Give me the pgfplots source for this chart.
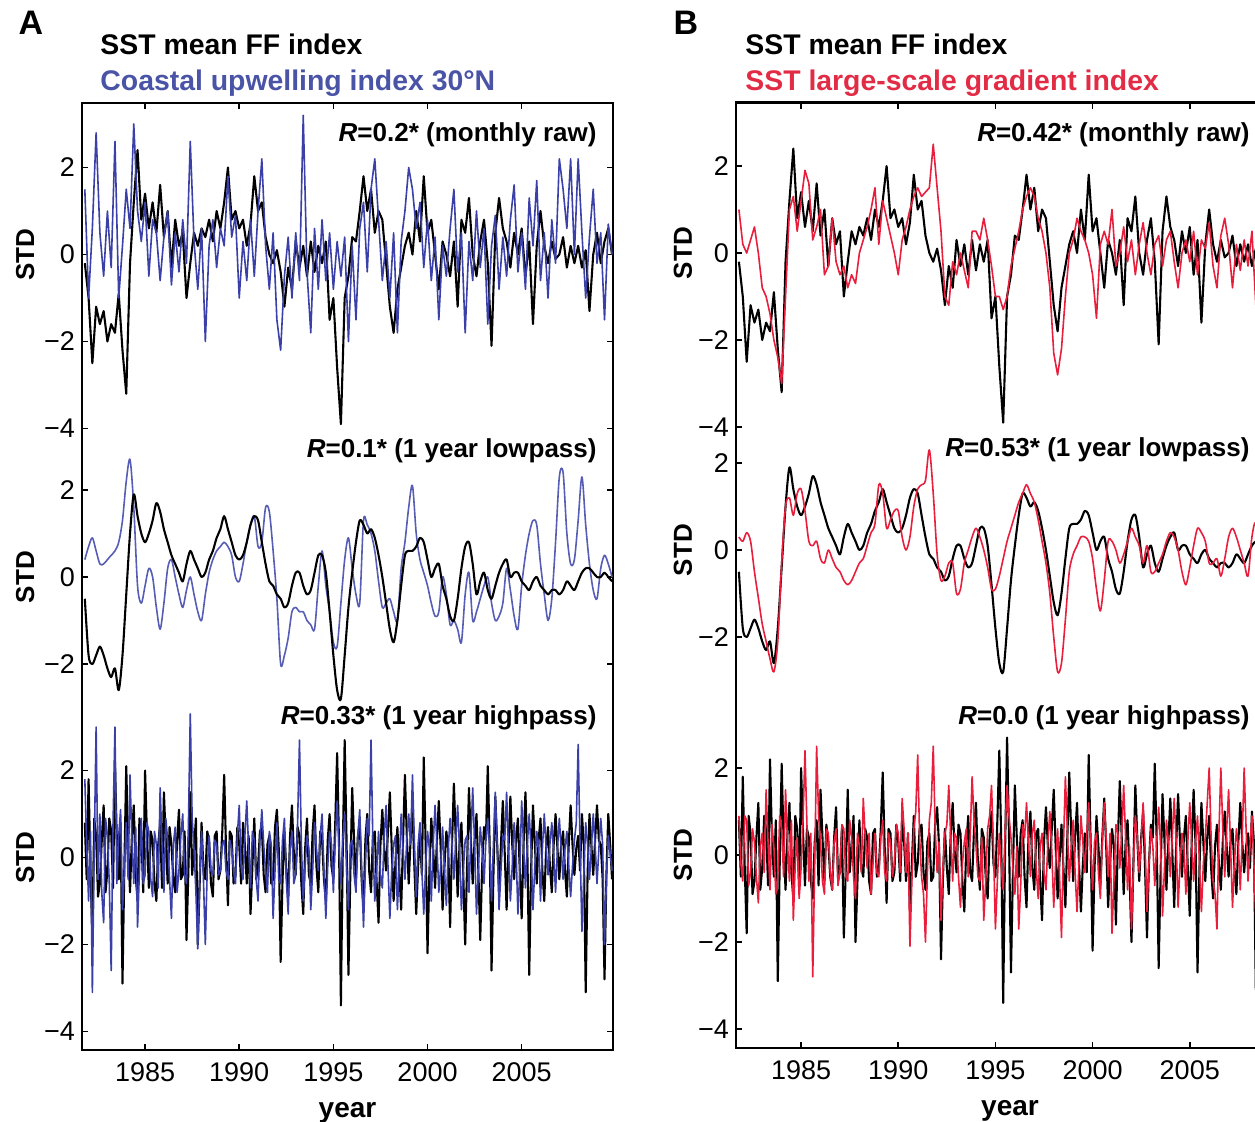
\documentclass[border=0pt]{standalone}
\usepackage{pgfplots}
\pgfplotsset{compat=1.18}
\usepackage{pgfplotstable}
\usepackage{fontspec}
\setmainfont{Liberation Sans}

\definecolor{cuiblue}{RGB}{58,64,168}
\definecolor{gradred}{RGB}{232,30,60}
\definecolor{titleblue}{RGB}{74,84,166}
\definecolor{titlered}{RGB}{226,44,70}

% monthly raw indices (t, SST mean FF, coastal upwelling 30N, SST gradient)
\pgfplotstableread{
t ff cui grad
1981.8 -0.2 1.5 1.0
1982.0 -1.0 -1.0 0.2
1982.2 -2.5 0.6 0.0
1982.4 -1.2 2.8 0.3
1982.6 -1.6 0.5 0.6
1982.8 -1.3 -0.5 0.0
1983.0 -2.0 1.0 -0.8
1983.2 -1.6 -0.3 -1.0
1983.4 -1.8 2.6 -1.4
1983.6 -0.9 -1.0 -2.0
1983.8 -2.2 0.2 -2.4
1984.0 -3.2 1.5 -3.0
1984.2 -0.2 0.6 -1.0
1984.4 1.2 3.0 1.0
1984.6 2.4 1.0 1.3
1984.8 0.8 0.3 0.5
1985.0 1.4 1.2 1.2
1985.2 0.6 -0.5 1.9
1985.4 1.2 0.8 1.6
1985.6 0.5 0.5 0.3
1985.8 1.6 -0.6 0.6
1986.0 0.4 0.4 1.0
1986.2 1.0 1.0 -0.5
1986.4 -0.3 -0.7 -0.3
1986.6 0.8 0.5 0.8
1986.8 0.2 -0.4 -0.2
1987.0 0.5 0.8 -0.5
1987.2 -1.0 -0.2 -0.3
1987.4 -0.2 2.6 -0.8
1987.6 0.5 0.3 -0.5
1987.8 0.2 -0.8 -0.7
1988.0 0.6 0.6 0.0
1988.2 0.4 -2.0 0.3
1988.4 0.8 0.2 0.6
1988.6 0.3 0.8 1.0
1988.8 1.0 -0.3 1.5
1989.0 0.6 0.6 0.2
1989.2 1.2 0.2 1.2
1989.4 2.0 1.8 0.8
1989.6 0.8 0.4 0.4
1989.8 1.0 0.9 0.0
1990.0 0.6 -1.0 -0.5
1990.2 0.8 0.3 0.3
1990.4 0.2 -0.6 0.6
1990.6 0.7 0.8 1.0
1990.8 1.8 -0.5 1.3
1991.0 1.0 1.0 1.5
1991.2 1.2 2.2 1.3
1991.4 0.4 0.2 1.4
1991.6 0.0 -0.8 1.5
1991.8 -0.2 0.5 2.5
1992.0 0.1 -1.5 1.5
1992.2 -0.4 -2.2 0.5
1992.4 -1.2 -0.5 -1.0
1992.6 -0.3 0.4 -1.2
1992.8 -0.8 -1.0 -0.2
1993.0 0.3 0.5 -0.5
1993.2 -0.3 -0.6 0.0
1993.4 0.2 3.2 -0.4
1993.6 -0.5 -0.4 -0.8
1993.8 0.3 -1.8 0.5
1994.0 -0.4 0.6 0.5
1994.2 0.2 -0.8 0.3
1994.4 -0.2 0.8 0.8
1994.6 0.3 -0.6 0.3
1994.8 -1.5 0.5 -0.3
1995.0 -1.0 -0.8 -1.0
1995.2 -2.6 0.3 -1.0
1995.4 -3.9 -0.5 -1.3
1995.6 -1.0 0.4 -1.0
1995.8 -0.5 -2.0 -0.3
1996.0 0.4 0.2 0.1
1996.2 0.3 -1.5 0.5
1996.4 1.0 0.6 1.0
1996.6 1.8 1.2 1.3
1996.8 1.0 -0.4 1.5
1997.0 1.5 1.5 1.3
1997.2 0.5 2.2 0.8
1997.4 1.0 0.8 0.5
1997.6 0.8 -0.6 0.0
1997.8 -0.2 0.3 -0.8
1998.0 -1.2 -1.0 -2.3
1998.2 -1.8 0.5 -2.8
1998.4 -0.8 -1.8 -2.2
1998.6 -0.3 0.3 -1.0
1998.8 0.2 1.0 0.0
1999.0 0.5 2.0 0.3
1999.2 0.0 1.5 0.8
1999.4 1.0 0.6 0.5
1999.6 0.3 1.2 0.3
1999.8 1.8 -0.3 0.0
2000.0 0.5 0.8 -0.5
2000.2 0.8 -0.6 -1.5
2000.4 0.0 0.4 0.2
2000.6 -0.8 -1.5 0.5
2000.8 0.3 0.2 0.2
2001.0 0.0 -0.5 1.0
2001.2 -0.5 0.6 -0.3
2001.4 0.3 1.5 0.0
2001.6 -1.2 -0.4 0.6
2001.8 0.8 0.5 -0.2
2002.0 0.5 -1.8 0.3
2002.2 1.3 0.3 -0.5
2002.4 0.0 -0.6 0.2
2002.6 -0.5 1.0 0.7
2002.8 0.3 -0.3 0.0
2003.0 0.8 0.6 -0.5
2003.2 -0.2 -1.6 0.2
2003.4 -2.1 0.2 0.4
2003.6 0.5 0.9 -0.3
2003.8 1.3 -0.8 0.3
2004.0 0.6 0.4 0.5
2004.2 0.3 -0.5 -0.2
2004.4 -0.3 0.8 -0.8
2004.6 0.5 1.6 0.0
2004.8 0.0 -0.4 0.3
2005.0 0.6 0.5 -0.2
2005.2 -0.5 -0.8 0.5
2005.4 0.3 1.3 -0.5
2005.6 -1.6 0.2 0.3
2005.8 0.2 1.7 0.1
2006.0 1.0 -0.6 0.7
2006.2 0.2 0.5 -0.3
2006.4 -0.2 -1.0 -0.8
2006.6 0.3 0.8 0.4
2006.8 -0.1 -0.2 0.8
2007.0 0.0 2.2 0.2
2007.2 0.4 1.5 -0.8
2007.4 -0.3 0.6 0.2
2007.6 0.2 2.2 -0.4
2007.8 -0.2 0.0 0.3
2008.0 0.2 2.2 -0.3
2008.2 -0.3 0.5 0.5
2008.4 0.1 -1.0 -1.2
2008.6 -1.3 0.4 0.4
2008.8 0.0 1.5 1.8
2009.0 0.5 -0.2 0.5
2009.2 -0.2 0.5 0.0
2009.4 0.3 -1.5 -0.3
2009.6 0.6 0.7 0.4
2009.8 0.0 0.0 0.2
}\raw

% 1 year lowpass
\pgfplotstableread{
t ff cui grad
1981.8 -0.5 0.4 0.3
1982.0 -1.8 0.7 0.2
1982.2 -2.0 0.9 0.4
1982.4 -1.8 0.6 0.2
1982.6 -1.6 0.3 -0.5
1982.8 -1.8 0.3 -1.1
1983.0 -2.1 0.4 -1.7
1983.2 -2.3 0.5 -2.1
1983.4 -2.1 0.6 -2.5
1983.6 -2.6 0.8 -2.8
1983.8 -1.8 1.3 -2.1
1984.0 -0.4 2.2 -0.3
1984.2 1.0 2.7 1.0
1984.4 1.9 1.6 1.2
1984.6 1.4 -0.2 0.8
1984.8 1.0 -0.6 1.3
1985.0 0.8 -0.2 1.4
1985.2 1.0 0.2 0.9
1985.4 1.3 0.0 0.2
1985.6 1.7 -0.7 0.1
1985.8 1.5 -1.2 0.2
1986.0 1.1 -0.6 -0.2
1986.2 0.8 0.2 -0.3
1986.4 0.5 0.4 0.0
1986.6 0.3 0.0 -0.2
1986.8 0.1 -0.4 -0.4
1987.0 -0.1 -0.7 -0.5
1987.2 0.3 -0.3 -0.7
1987.4 0.6 0.0 -0.8
1987.6 0.4 -0.4 -0.7
1987.8 0.2 -0.8 -0.5
1988.0 0.0 -1.0 -0.3
1988.2 0.1 -0.4 -0.2
1988.4 0.4 0.1 0.1
1988.6 0.6 0.4 0.4
1988.8 0.9 0.6 0.6
1989.0 1.1 0.7 1.5
1989.2 1.4 0.8 1.3
1989.4 1.1 0.7 0.5
1989.6 0.8 0.5 0.7
1989.8 0.5 0.0 0.9
1990.0 0.4 -0.1 0.9
1990.2 0.5 0.3 0.3
1990.4 0.8 0.8 0.0
1990.6 1.2 1.2 0.3
1990.8 1.4 1.4 1.0
1991.0 1.3 0.7 1.4
1991.2 0.8 0.8 1.5
1991.4 0.3 1.6 1.6
1991.6 -0.1 1.5 2.3
1991.8 -0.2 0.6 1.3
1992.0 -0.4 -0.5 -0.1
1992.2 -0.5 -2.0 -0.7
1992.4 -0.7 -1.8 -0.6
1992.6 -0.6 -1.4 -0.3
1992.8 -0.2 -0.8 -0.3
1993.0 0.1 -0.7 -1.0
1993.2 0.1 -0.8 -0.9
1993.4 -0.2 -0.8 -0.3
1993.6 -0.4 -1.0 0.0
1993.8 -0.3 -1.1 0.3
1994.0 0.1 -1.2 0.5
1994.2 0.5 -0.2 0.3
1994.4 0.5 0.6 0.0
1994.6 0.1 -0.2 -0.4
1994.8 -0.8 -0.8 -0.9
1995.0 -1.8 -1.5 -0.9
1995.2 -2.6 -1.6 -0.6
1995.4 -2.8 -0.6 -0.2
1995.6 -1.8 0.4 0.2
1995.8 -0.7 0.9 0.5
1996.0 0.1 0.2 0.8
1996.2 0.8 -0.4 1.1
1996.4 1.3 -0.6 1.3
1996.6 1.2 1.3 1.5
1996.8 1.0 1.2 1.3
1997.0 1.1 1.0 1.1
1997.2 0.9 0.6 0.7
1997.4 0.5 -0.1 0.2
1997.6 0.0 -0.7 -0.3
1997.8 -0.6 -0.6 -1.0
1998.0 -1.2 -0.5 -2.0
1998.2 -1.5 -0.8 -2.8
1998.4 -1.0 -1.0 -2.6
1998.6 -0.2 0.2 -1.6
1998.8 0.5 0.8 -0.5
1999.0 0.6 1.6 -0.1
1999.2 0.6 2.1 0.1
1999.4 0.7 1.0 0.3
1999.6 0.9 0.4 0.3
1999.8 0.8 0.1 0.2
2000.0 0.4 -0.2 -0.2
2000.2 0.0 -0.6 -0.9
2000.4 0.2 -0.9 -1.4
2000.6 0.3 -0.8 -0.7
2000.8 -0.2 0.0 0.2
2001.0 -0.5 -0.4 0.2
2001.2 -0.9 -1.1 0.0
2001.4 -1.0 -1.0 -0.3
2001.6 -0.5 -1.2 -0.1
2001.8 0.2 -1.5 0.2
2002.0 0.7 -0.4 0.5
2002.2 0.8 0.1 0.3
2002.4 0.3 -1.0 0.1
2002.6 -0.4 -0.8 -0.3
2002.8 -0.1 -0.5 0.1
2003.0 0.1 -0.2 -0.5
2003.2 -0.3 0.0 -0.5
2003.4 -0.5 -0.6 -0.3
2003.6 -0.2 -1.0 -0.1
2003.8 0.1 -0.9 0.2
2004.0 0.3 -0.6 0.4
2004.2 0.4 0.2 0.3
2004.4 0.0 -0.3 0.0
2004.6 0.1 -0.9 -0.5
2004.8 0.1 -1.2 -0.8
2005.0 -0.1 -0.2 -0.4
2005.2 -0.2 0.5 0.1
2005.4 -0.3 1.0 0.5
2005.6 -0.1 1.3 0.4
2005.8 0.0 1.2 0.2
2006.0 -0.2 0.3 -0.3
2006.2 -0.3 -0.4 -0.3
2006.4 -0.4 -1.0 -0.2
2006.6 -0.3 -0.5 -0.6
2006.8 -0.3 0.8 -0.2
2007.0 -0.4 2.3 0.3
2007.2 -0.3 2.4 0.5
2007.4 -0.1 1.0 0.3
2007.6 -0.2 0.3 0.0
2007.8 -0.3 0.4 -0.3
2008.0 -0.1 1.3 -0.6
2008.2 0.1 2.3 0.3
2008.4 0.2 1.2 0.6
2008.6 0.2 0.3 -0.5
2008.8 0.1 -0.3 -1.1
2009.0 0.0 -0.5 -0.8
2009.2 0.0 0.2 -0.2
2009.4 0.1 0.5 0.2
2009.6 0.0 0.3 0.1
2009.8 -0.1 0.0 0.0
}\low

% 1 year highpass
\pgfplotstableread{
t ff cui grad
1981.8 0.8 1.8 0.9
1981.9 -0.5 0.3 -0.2
1982.0 1.8 -1.0 -0.6
1982.1 -0.3 0.6 0.9
1982.2 -1.8 -3.1 0.8
1982.3 0.9 0.2 -0.7
1982.4 0.5 3.0 -0.4
1982.5 -0.9 -0.5 0.6
1982.6 -0.6 1.0 0.3
1982.7 0.4 -0.8 -0.5
1982.8 1.2 -1.5 -1.1
1982.9 -0.8 0.9 0.2
1983.0 -0.3 0.5 0.5
1983.1 0.9 -0.6 -0.4
1983.2 0.6 -2.6 1.5
1983.3 -0.7 0.8 0.3
1983.4 2.2 3.0 -0.8
1983.5 0.4 -0.6 0.7
1983.6 -0.5 0.5 0.2
1983.7 0.8 1.1 -0.9
1983.8 -2.9 -1.2 -0.5
1983.9 -0.2 -0.3 0.9
1984.0 2.1 0.8 0.6
1984.1 0.3 -0.5 -0.5
1984.2 -0.8 1.9 1.5
1984.3 0.5 0.4 0.3
1984.4 1.2 -0.6 -0.6
1984.5 -0.4 0.7 0.8
1984.6 -1.0 -1.6 -1.5
1984.7 0.9 -0.3 -0.2
1984.8 0.6 0.9 0.4
1984.9 -0.8 -0.6 -1.0
1985.0 2.0 -0.4 -0.3
1985.1 0.5 0.8 0.8
1985.2 -0.7 0.6 2.4
1985.3 0.6 -0.5 0.7
1985.4 0.4 -0.9 -0.6
1985.5 -0.6 0.6 0.5
1985.6 -1.0 0.3 -2.8
1985.7 0.3 -0.7 -0.2
1985.8 0.8 1.6 2.5
1985.9 -0.7 0.3 0.9
1986.0 1.5 -0.8 0.3
1986.1 0.4 0.9 -0.6
1986.2 -0.6 0.4 -0.9
1986.3 0.7 -0.5 0.6
1986.4 0.3 -1.4 0.5
1986.5 -0.5 0.3 -0.4
1986.6 -0.8 0.7 -0.8
1986.7 0.4 -0.8 0.3
1986.8 1.1 -0.3 0.6
1986.9 -0.5 0.5 -0.7
1987.0 -0.4 1.0 -0.4
1987.1 0.6 -0.4 0.7
1987.2 -1.9 -0.6 0.6
1987.3 -0.3 0.7 -0.5
1987.4 1.5 3.3 -0.6
1987.5 -0.4 0.9 0.8
1987.6 0.2 0.2 0.4
1987.7 0.9 -0.8 -0.5
1987.8 -2.0 -2.1 -1.0
1987.9 -0.6 -0.4 0.5
1988.0 0.8 0.6 0.2
1988.1 -0.3 -0.5 -0.4
1988.2 -0.5 -2.0 1.3
1988.3 0.6 -0.3 0.4
1988.4 0.4 0.5 -0.3
1988.5 -0.6 -0.3 0.5
1988.6 -0.9 -0.4 -0.9
1988.7 0.5 0.4 -0.2
1988.8 0.6 0.3 0.5
1988.9 -0.5 -0.4 -0.4
1989.0 -0.3 -0.3 -0.5
1989.1 0.6 0.3 0.4
1989.2 1.9 0.4 0.8
1989.3 0.2 -0.3 -0.4
1989.4 -1.1 -0.5 -0.6
1989.5 0.6 0.4 0.5
1989.6 0.5 0.2 0.3
1989.7 -0.6 -0.3 -0.5
1989.8 -0.4 -0.6 -0.2
1989.9 0.7 0.5 0.7
1990.0 0.3 1.2 0.5
1990.1 -0.6 -0.2 -0.4
1990.2 0.8 -0.5 1.3
1990.3 0.3 0.5 0.6
1990.4 -0.6 1.3 -0.4
1990.5 0.5 0.2 0.5
1990.6 -1.3 -0.7 -2.1
1990.7 -0.2 0.6 -0.6
1990.8 0.9 0.4 0.6
1990.9 -0.5 -0.5 1.0
1991.0 -0.2 -1.0 2.3
1991.1 0.6 0.4 0.4
1991.2 0.7 1.1 -0.5
1991.3 -0.4 0.3 -0.9
1991.4 -0.8 -0.3 -2.0
1991.5 0.3 -0.8 -0.4
1991.6 0.5 0.6 0.8
1991.7 -0.6 0.3 1.2
1991.8 -0.5 -1.4 2.5
1991.9 0.7 -0.3 0.6
1992.0 1.1 0.8 -0.4
1992.1 0.2 -0.5 0.3
1992.2 -2.4 -0.6 -1.5
1992.3 -0.5 0.4 -0.3
1992.4 0.6 0.9 0.5
1992.5 -0.3 -0.5 0.7
1992.6 -0.9 -1.3 1.6
1992.7 0.5 0.2 0.4
1992.8 1.2 0.6 -0.6
1992.9 0.1 -0.6 0.5
1993.0 -0.4 -0.4 0.4
1993.1 0.7 0.8 -0.5
1993.2 0.5 2.7 -1.2
1993.3 -0.6 0.3 -0.2
1993.4 -1.3 -1.0 0.3
1993.5 0.2 -0.2 0.6
1993.6 0.9 0.5 -0.5
1993.7 -0.4 0.2 0.4
1993.8 -0.6 -1.2 1.8
1993.9 0.6 -0.3 0.8
1994.0 1.2 0.8 0.2
1994.1 -0.2 0.2 -0.5
1994.2 -0.8 -0.3 -0.6
1994.3 0.6 0.5 0.4
1994.4 0.4 1.0 -1.5
1994.5 -0.5 -0.3 -0.6
1994.6 -1.0 -1.4 0.6
1994.7 0.4 -0.2 0.9
1994.8 1.0 0.6 1.6
1994.9 -0.2 0.3 0.2
1995.0 -0.5 -0.8 -1.7
1995.1 0.8 0.4 -0.6
1995.2 2.4 1.3 0.5
1995.3 0.3 0.2 -0.3
1995.4 -3.4 -0.6 -0.8
1995.5 0.2 0.4 0.6
1995.6 2.7 1.0 1.6
1995.7 0.4 -0.2 0.9
1995.8 -2.7 -1.2 0.4
1995.9 -0.4 0.3 -0.3
1996.0 1.6 0.4 -0.9
1996.1 0.4 -0.4 0.2
1996.2 -0.5 -0.8 -1.7
1996.3 0.5 0.5 -0.7
1996.4 0.8 1.1 0.7
1996.5 -0.5 -0.3 0.4
1996.6 -1.2 -1.6 1.2
1996.7 0.4 -0.2 0.3
1996.8 1.0 0.9 -0.5
1996.9 -0.3 0.5 0.5
1997.0 -0.8 2.7 0.8
1997.1 0.5 0.3 -0.3
1997.2 0.6 -1.0 -1.0
1997.3 -0.6 -0.3 0.2
1997.4 -1.5 0.6 0.5
1997.5 0.3 -0.4 -0.4
1997.6 1.1 -0.7 -0.8
1997.7 0.2 0.5 0.3
1997.8 -0.3 1.2 1.0
1997.9 0.6 -0.2 0.1
1998.0 1.5 -1.4 -1.2
1998.1 0.2 -0.3 -0.2
1998.2 -1.0 0.3 0.6
1998.3 -0.1 0.5 -0.5
1998.4 0.7 -1.2 -1.9
1998.5 -0.3 -0.2 0.2
1998.6 -1.2 1.0 1.8
1998.7 0.4 0.2 0.6
1998.8 1.9 -0.5 -0.6
1998.9 0.5 0.4 0.2
1999.0 -0.6 1.0 0.8
1999.1 0.4 0.3 -0.4
1999.2 1.2 1.9 -1.3
1999.3 -0.2 0.4 -0.2
1999.4 -1.3 -0.9 0.9
1999.5 -0.2 0.3 0.3
1999.6 0.5 0.8 -0.4
1999.7 -0.4 -0.3 0.5
1999.8 2.3 -1.3 1.2
1999.9 0.3 -0.2 0.2
2000.0 -2.2 0.6 -0.8
2000.1 -0.3 0.2 0.3
2000.2 0.9 -1.0 0.5
2000.3 0.2 0.3 -0.4
2000.4 -0.7 1.2 -1.0
2000.5 0.4 0.3 0.3
2000.6 1.3 -0.8 1.2
2000.7 0.2 -0.2 0.4
2000.8 -1.2 0.7 -0.5
2000.9 -0.2 -0.3 0.5
2001.0 0.6 -1.1 -1.8
2001.1 0.2 0.2 -0.6
2001.2 -1.6 0.9 0.7
2001.3 0.3 0.3 0.5
2001.4 1.7 -0.5 -0.3
2001.5 0.4 0.4 0.5
2001.6 -0.9 1.2 1.6
2001.7 0.3 0.2 0.4
2001.8 0.8 -1.2 -0.8
2001.9 -0.4 -0.3 0.2
2002.0 -2.0 0.4 -1.7
2002.1 -0.2 0.5 -0.3
2002.2 1.6 -0.8 0.9
2002.3 0.4 0.4 0.4
2002.4 -0.6 1.6 -0.4
2002.5 0.4 0.3 0.3
2002.6 1.0 -1.3 1.2
2002.7 -0.3 -0.3 0.2
2002.8 -1.9 0.7 -1.3
2002.9 -0.2 0.2 -0.2
2003.0 0.7 -0.6 0.6
2003.1 0.4 0.4 0.2
2003.2 2.1 0.9 -0.7
2003.3 0.3 0.2 0.3
2003.4 -2.6 -1.0 1.1
2003.5 -0.4 0.3 0.2
2003.6 1.4 1.5 -1.4
2003.7 0.3 0.3 -0.3
2003.8 -0.8 -1.2 0.8
2003.9 0.3 -0.3 0.3
2004.0 1.3 0.5 -0.5
2004.1 0.1 0.4 0.4
2004.2 -1.2 1.5 1.3
2004.3 0.2 0.2 0.3
2004.4 1.4 -1.0 -1.2
2004.5 0.3 -0.2 -0.2
2004.6 -0.5 0.8 0.5
2004.7 0.4 0.2 0.2
2004.8 0.9 -1.3 -0.9
2004.9 -0.3 -0.3 0.3
2005.0 -1.4 1.3 1.2
2005.1 0.3 0.3 0.3
2005.2 1.5 -0.7 -0.6
2005.3 0.2 0.3 0.3
2005.4 -2.7 1.0 0.9
2005.5 -0.3 0.2 -0.2
2005.6 1.2 -1.2 -1.3
2005.7 0.3 -0.2 -0.2
2005.8 -0.6 0.6 0.4
2005.9 0.4 0.3 1.2
2006.0 0.9 -1.0 2.0
2006.1 -0.3 0.2 0.4
2006.2 -1.0 1.0 -0.6
2006.3 0.2 0.2 -0.9
2006.4 0.7 -0.4 -1.7
2006.5 -0.2 0.3 0.5
2006.6 -0.8 0.8 2.0
2006.7 0.3 0.1 0.6
2006.8 1.0 -0.8 -0.5
2006.9 0.2 0.2 0.6
2007.0 -0.5 0.9 1.5
2007.1 0.3 0.2 0.2
2007.2 0.6 -0.5 -1.2
2007.3 -0.3 0.2 -0.2
2007.4 -0.9 0.6 0.6
2007.5 0.3 -0.2 0.2
2007.6 1.2 -0.9 -0.8
2007.7 0.3 -0.2 0.4
2007.8 -0.4 0.4 2.0
2007.9 0.2 0.8 0.6
2008.0 0.5 2.6 -0.6
2008.1 -0.3 0.3 0.2
2008.2 1.0 -1.7 0.9
2008.3 0.3 -0.4 -0.2
2008.4 -3.1 0.8 -1.4
2008.5 -0.4 0.3 0.2
2008.6 1.0 -0.5 1.8
2008.7 0.3 0.2 0.5
2008.8 -0.4 1.0 -0.7
2008.9 0.4 0.3 -0.2
2009.0 1.2 -0.6 0.6
2009.1 0.4 0.2 0.2
2009.2 0.3 0.9 -0.9
2009.3 -0.5 0.3 -0.2
2009.4 -2.8 -2.0 0.8
2009.5 -0.4 -0.5 0.3
2009.6 1.0 0.5 -0.4
2009.7 0.3 0.1 0.2
2009.8 -0.5 -0.3 0.3
}\high

\pgfplotsset{
  ticks13/.style={tick label style={font=\fontsize{13.5}{16}\selectfont}},
  panel/.style={scale only axis, height=473.5pt,
    xmin=1981.65, xmax=2009.85, ymin=0, ymax=1, ytick=\empty,
    xtick={1985,1990,1995,2000,2005},
    xticklabels={1985,1990,1995,2000,2005},
    tick align=inside, major tick length=3pt,
    tick style={line width=0.8pt, black},
    axis line style={line width=1.1pt},
    ticks13,
    xticklabel style={yshift=-3pt},
    xlabel={year},
    xlabel style={font=\fontsize{14}{16}\selectfont\bfseries, yshift=-3pt}},
  sub/.style={scale only axis, height=195.75pt,
    xmin=1981.65, xmax=2009.85, ymin=-4.5, ymax=4.5,
    xtick=\empty, axis line style={draw=none},
    tick align=inside, major tick length=3pt,
    tick style={line width=0.8pt, black},
    yticklabel pos=left, clip=false, ticks13,
    ylabel={STD},
    ylabel style={font=\fontsize{13}{15}\selectfont\bfseries, anchor=center}},
  four/.style={ytick={-4,-2,0,2}, yticklabels={−4,−2,0,2}},
  three/.style={ytick={-2,0,2}, yticklabels={−2,0,2}},
  ffline/.style={black, line width=1.05pt, line join=round},
  cline/.style={line width=0.8pt, line join=round},
}

\begin{document}
\begin{tikzpicture}
% ---------- panel A ----------
\begin{axis}[panel, width=265.5pt, at={(41pt,-525pt)}, anchor=south west]
\end{axis}
\begin{axis}[sub, four, width=265.5pt, at={(41pt,-127.25pt)}, anchor=west,
  ylabel style={at={(axis description cs:-0.107,0.5)}}]
\addplot[ffline] table[x=t, y=ff] {\raw};
\addplot[cline, cuiblue] table[x=t, y=cui] {\raw};
\end{axis}
\begin{axis}[sub, three, width=265.5pt, at={(41pt,-288.5pt)}, anchor=west,
  ylabel style={at={(axis description cs:-0.107,0.5)}}]
\addplot[cline, cuiblue!85!white, smooth] table[x=t, y=cui] {\low};
\addplot[ffline, smooth] table[x=t, y=ff] {\low};
\end{axis}
\begin{axis}[sub, four, width=265.5pt, at={(41pt,-428.75pt)}, anchor=west,
  ylabel style={at={(axis description cs:-0.107,0.5)}}]
\addplot[ffline] table[x=t, y=ff] {\high};
\addplot[cline, cuiblue] table[x=t, y=cui] {\high};
\end{axis}

% ---------- panel B ----------
\begin{axis}[panel, width=274pt, at={(368pt,-524pt)}, anchor=south west, height=472.75pt]
\end{axis}
\begin{axis}[sub, four, width=274pt, at={(368pt,-126.5pt)}, anchor=west,
  ylabel style={at={(axis description cs:-0.097,0.5)}}]
\addplot[ffline] table[x=t, y=ff] {\raw};
\addplot[cline, gradred] table[x=t, y=grad] {\raw};
\end{axis}
\begin{axis}[sub, three, width=274pt, at={(368pt,-275pt)}, anchor=west,
  ylabel style={at={(axis description cs:-0.097,0.5)}}]
\addplot[ffline, smooth] table[x=t, y=ff] {\low};
\addplot[cline, gradred, smooth] table[x=t, y=grad] {\low};
\end{axis}
\begin{axis}[sub, four, width=274pt, at={(368pt,-427.5pt)}, anchor=west,
  ylabel style={at={(axis description cs:-0.097,0.5)}}]
\addplot[ffline] table[x=t, y=ff] {\high};
\addplot[cline, gradred] table[x=t, y=grad] {\high};
\end{axis}

% ---------- texts ----------
\node[font=\fontsize{17}{20}\selectfont\bfseries] at (15.5pt,-11.5pt) {A};
\node[font=\fontsize{17}{20}\selectfont\bfseries] at (343pt,-11.5pt) {B};
\begin{scope}[every node/.style={font=\fontsize{14.2}{16}\selectfont\bfseries, inner sep=0pt}]
\node[anchor=base west] at (50pt,-27pt) {SST mean FF index};
\node[anchor=base west, text=titleblue] at (50pt,-45pt) {Coastal upwelling index 30°N};
\node[anchor=base west] at (372.5pt,-27pt) {SST mean FF index};
\node[anchor=base west, text=titlered] at (372.5pt,-45pt) {SST large-scale gradient index};
\end{scope}
\begin{scope}[every node/.style={font=\fontsize{13}{15}\selectfont\bfseries, inner sep=0pt, anchor=base east}]
\node at (298.5pt,-70.5pt) {\textit{R}=0.2* (monthly raw)};
\node at (298.5pt,-228.5pt) {\textit{R}=0.1* (1 year lowpass)};
\node at (298.5pt,-362pt) {\textit{R}=0.33* (1 year highpass)};
\node at (625pt,-70.5pt) {\textit{R}=0.42* (monthly raw)};
\node at (625pt,-228pt) {\textit{R}=0.53* (1 year lowpass)};
\node at (625pt,-362pt) {\textit{R}=0.0 (1 year highpass)};
\end{scope}

\pgfresetboundingbox
\useasboundingbox (0pt,0pt) rectangle (627.5pt,-560.5pt);
\end{tikzpicture}
\end{document}
